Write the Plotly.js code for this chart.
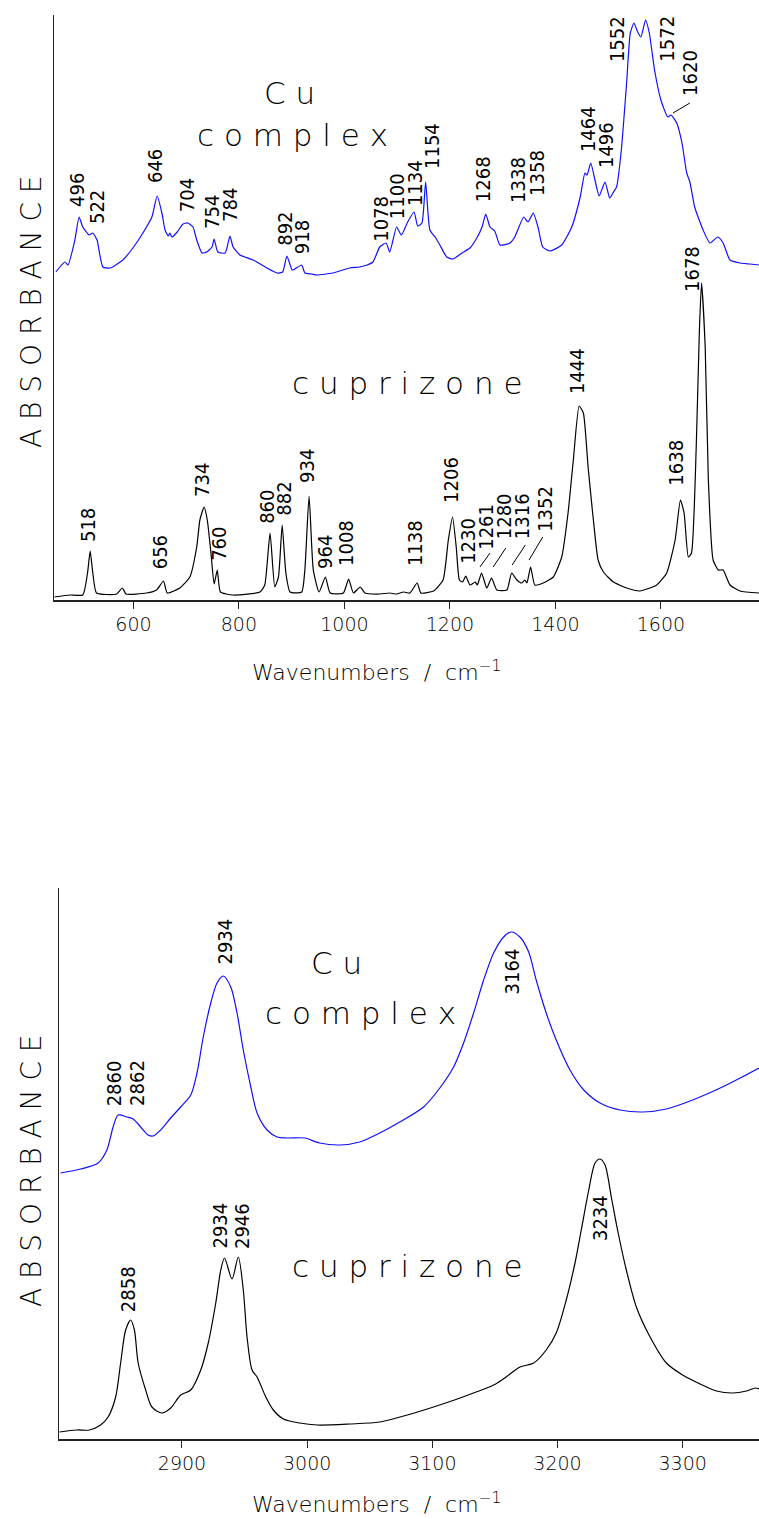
<!DOCTYPE html>
<html>
<head>
<meta charset="utf-8">
<script src="https://cdn.plot.ly/plotly-3.0.1.min.js"></script>
<style>html,body{margin:0;padding:0;background:#fff;}#chart{width:759px;height:1519px;}</style>
</head>
<body>
<div id="chart"></div>
<script>
// ---------- Fingerprint region (450-1786 cm-1) ----------
const fpCuWn = [453,470,476,489,497,504,516,523,531,542,556,580,599,618,635,645,654,660,666,669,673,683,694,703,713,720,730,739,749,753,760,774,783,789,802,827,853,872,883,891,901,906,919,925,938,948,978,1010,1029,1043,1054,1067,1079,1086,1099,1108,1120,1132,1139,1147,1154,1162,1172,1181,1194,1206,1223,1238,1251,1261,1268,1276,1285,1295,1314,1323,1340,1348,1358,1367,1376,1390,1412,1431,1447,1456,1460,1467,1475,1483,1494,1503,1509,1516,1525,1535,1542,1549,1556,1562,1571,1578,1588,1600,1613,1619,1630,1640,1649,1655,1664,1680,1693,1708,1718,1731,1750,1769,1786];
const fpCuAbs = [328,338,335,360,383,373,365,367,360,333,332,340,352,367,383,404,387,370,364,367,363,368,376,377,373,360,347,348,353,361,348,347,364,353,345,340,332,327,328,344,330,331,335,327,326,325,327,332,333,335,338,353,357,348,373,365,378,388,374,377,418,370,363,355,343,341,347,352,362,373,386,373,369,355,357,363,383,378,387,373,353,349,355,373,403,427,425,437,420,404,418,402,407,413,450,517,567,577,568,563,580,567,530,500,483,485,477,457,427,418,393,370,357,363,357,340,337,336,335];

const fpCzWn = [450,480,504,513,518,523,530,568,579,586,625,644,657,664,688,707,720,726,734,740,747,753,759,765,789,840,849,859,868,875,882,889,897,919,925,933,941,952,964,973,998,1008,1017,1030,1039,1067,1086,1099,1112,1124,1138,1145,1169,1187,1197,1205,1212,1218,1224,1230,1238,1248,1252,1260,1270,1279,1289,1308,1317,1327,1336,1342,1346,1353,1361,1377,1396,1412,1424,1434,1445,1453,1462,1472,1481,1491,1510,1535,1560,1592,1611,1627,1637,1644,1652,1658,1667,1673,1677,1684,1690,1699,1709,1718,1731,1750,1786];
const fpCzAbs = [3,5,5,27,49,27,7,6,12,6,7,10,19,7,12,23,53,80,93,80,47,16,30,8,5,8,15,67,13,23,75,27,8,8,30,104,30,8,23,7,7,21,7,13,7,6,7,6,8,7,17,7,9,20,60,83,53,20,18,24,15,18,15,27,12,22,10,10,27,20,17,20,17,33,15,17,23,43,87,140,194,187,133,80,40,28,18,12,9,15,27,60,100,87,43,47,153,270,317,253,120,40,30,30,15,9,7];

// ---------- C-H / N-H region (2802-3361 cm-1) ----------
const chCuWn = [2803,2819,2833,2840,2845,2849,2856,2861,2867,2873,2877,2883,2891,2899,2907,2912,2917,2923,2928,2933,2939,2944,2949,2955,2960,2968,2976,2984,2998,3010,3026,3042,3058,3074,3093,3106,3117,3125,3133,3141,3149,3157,3163,3170,3177,3183,3191,3199,3210,3221,3234,3250,3268,3287,3308,3330,3346,3361];
const chCuAbs = [266,270,276,289,312,324,322,320,312,304,303,309,321,332,344,366,402,436,456,463,452,426,389,352,326,309,302,301,301,296,294,297,306,317,332,351,372,396,426,459,486,502,507,502,487,459,426,399,369,349,336,329,327,330,339,351,361,371];

const chCzWn = [2802,2816,2826,2835,2841,2847,2851,2855,2859,2862,2865,2871,2876,2884,2891,2899,2907,2915,2921,2927,2931,2934,2940,2945,2949,2952,2956,2960,2967,2973,2981,2994,3008,3034,3058,3080,3101,3120,3135,3149,3159,3170,3181,3191,3199,3207,3214,3219,3225,3230,3234,3238,3243,3248,3255,3263,3274,3287,3300,3314,3327,3340,3351,3358,3361];
const chCzAbs = [7,9,9,14,22,42,76,109,119,109,76,49,32,26,31,44,49,69,96,136,169,181,160,182,149,102,69,62,42,29,20,16,14,15,17,24,32,40,47,54,62,72,76,89,106,139,176,209,249,276,280,274,242,209,169,132,102,76,64,55,48,46,48,51,50];

// ---------- Tick labels ----------
const fpTicks = [600, 800, 1000, 1200, 1400, 1600];
const chTicks = [2900, 3000, 3100, 3200, 3300];

// ---------- Peak labels (text, label x, label y in data units) ----------
const fpCuLabels = ['496','522','646','704','754','784','892','918','1078','1100','1134','1154','1268','1338','1358','1464','1496','1552','1572','1620'];
const fpCuLabX   = [493,531,641,702,749,783,887,920,1069,1100,1134,1166,1263,1329,1365,1462,1496,1517,1611,1655];
const fpCuLabY   = [392,375,416,387,370,377,353,345,357,380,393,430,397,396,403,447,431,537,537,503];

const fpCzLabels = ['518','656','734','760','860','882','934','964','1008','1138','1206','1230','1261','1280','1316','1352','1444','1638','1678'];
const fpCzLabX   = [514,651,730,762,853,885,929,963,1003,1134,1202,1234,1268,1303,1337,1380,1441,1628,1659];
const fpCzLabY   = [57,30,102,38,75,83,116,30,33,33,96,35,49,60,60,67,205,113,307];

const chCuLabels = ['2860','2862','2934','3164'];
const chCuLabX   = [2846,2864,2934,3164];
const chCuLabY   = [332,332,473,444];

const chCzLabels = ['2858','2934','2946','3234'];
const chCzLabX   = [2857,2930,2948,3234];
const chCzLabY   = [126,189,189,197];

// leader lines [x0, y0, x1, y1] in data units of the fingerprint panel
const fpLeaders = [[1623,487,1655,497],[1257,33,1276,47],[1282,33,1306,52],[1318,35,1343,55],[1350,40,1376,63]];

const BLUE = '#1010ff';
const W = 759, H = 1519;
const px = v => v / W, py = v => 1 - v / H;

const traces = [
  {x: fpCuWn, y: fpCuAbs, xaxis:'x', yaxis:'y', mode:'lines', line:{color:BLUE, width:1.2, shape:'spline', smoothing:0.5}, hoverinfo:'skip'},
  {x: fpCzWn, y: fpCzAbs, xaxis:'x', yaxis:'y', mode:'lines', line:{color:'#000', width:1.2, shape:'spline', smoothing:0.5}, hoverinfo:'skip'},
  {x: chCuWn, y: chCuAbs, xaxis:'x2', yaxis:'y2', mode:'lines', line:{color:BLUE, width:1.2, shape:'spline', smoothing:0.8}, hoverinfo:'skip'},
  {x: chCzWn, y: chCzAbs, xaxis:'x2', yaxis:'y2', mode:'lines', line:{color:'#000', width:1.2, shape:'spline', smoothing:0.8}, hoverinfo:'skip'}
];

const TXT = {family:'DejaVu Sans', weight:200, color:'#000'};
const NUM = {family:'DejaVu Sans Condensed, DejaVu Sans', size:20, color:'#000'};

const annotations = [];
function addLabels(texts, xs, ys, xr, yr) {
  texts.forEach((t, i) => annotations.push({
    text: t, x: xs[i], y: ys[i], xref: xr, yref: yr, showarrow: false,
    textangle: -90, xanchor: 'center', yanchor: 'bottom', font: NUM, borderpad: 0
  }));
}
addLabels(fpCuLabels, fpCuLabX, fpCuLabY, 'x', 'y');
addLabels(fpCzLabels, fpCzLabX, fpCzLabY, 'x', 'y');
addLabels(chCuLabels, chCuLabX, chCuLabY, 'x2', 'y2');
addLabels(chCzLabels, chCzLabX, chCzLabY, 'x2', 'y2');

function spaced(s) { return s.split('').join(' '); }
function title(text, x, y, size, extra) {
  annotations.push(Object.assign({text, x: px(x), y: py(y), xref:'paper', yref:'paper', showarrow:false,
    xanchor:'center', yanchor:'middle', font: Object.assign({}, TXT, {size})}, extra || {}));
}
// sample names
title(spaced('Cu'), 289, 93, 31);
title(spaced('complex'), 292, 135, 31);
title(spaced('cuprizone'), 407, 383, 31);
title(spaced('Cu'), 336, 963, 31);
title(spaced('complex'), 360, 1013, 31);
title(spaced('cuprizone'), 407, 1266, 31);
// axis titles
const xt = 'Wavenumbers\u00A0\u00A0/\u00A0\u00A0cm<sup>\u22121</sup>';
title(xt, 376, 671, 22);
title(xt, 376, 1503, 22);
title(spaced('ABSORBANCE'), 31, 312, 28, {textangle:-90});
title(spaced('ABSORBANCE'), 31, 1171, 28, {textangle:-90});

const shapes = fpLeaders.map(l => ({type:'line', xref:'x', yref:'y', x0:l[0], y0:l[1], x1:l[2], y1:l[3], line:{color:'#000', width:1}}));

const axCommon = {showgrid:false, zeroline:false, showline:true, linecolor:'#222', linewidth:1.5,
  ticks:'outside', ticklen:7, tickwidth:1, tickcolor:'#222', tickfont:Object.assign({}, TXT, {size:19, color:'#000'})};
const layout = {
  width: W, height: H, margin:{l:0, r:0, t:0, b:0},
  paper_bgcolor:'#fff', plot_bgcolor:'#fff', showlegend:false,
  font: TXT,
  xaxis: Object.assign({}, axCommon, {domain:[px(54.3), 1], range:[450, 1786], anchor:'y', tickmode:'array', tickvals: fpTicks, ticktext: fpTicks.map(String)}),
  yaxis: {domain:[py(600), py(15)], range:[0, 585], anchor:'x', showgrid:false, zeroline:false, showline:true, linecolor:'#222', linewidth:1.5, showticklabels:false, ticks:''},
  xaxis2: Object.assign({}, axCommon, {domain:[px(59.3), 1], range:[2802, 3361], anchor:'y2', tickmode:'array', tickvals: chTicks, ticktext: chTicks.map(String)}),
  yaxis2: {domain:[py(1439), py(888)], range:[0, 551], anchor:'x2', showgrid:false, zeroline:false, showline:true, linecolor:'#222', linewidth:1.5, showticklabels:false, ticks:''},
  annotations, shapes
};
Plotly.newPlot('chart', traces, layout, {staticPlot:true, displayModeBar:false});
</script>
</body>
</html>
